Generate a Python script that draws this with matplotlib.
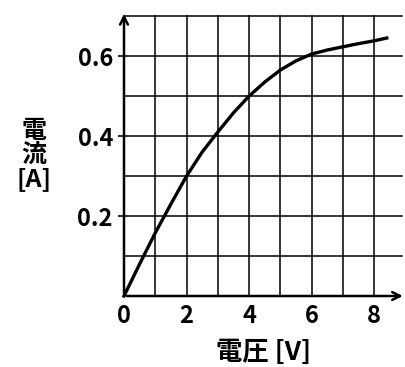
import matplotlib.pyplot as plt

plt.rcParams['font.family'] = ['Noto Sans CJK JP', 'DejaVu Sans']

# values
voltage = [0, 0.5, 1, 1.5, 2, 2.5, 3, 3.5, 4, 4.5, 5, 5.5, 6, 6.5, 7, 7.5, 8, 8.4]
current = [0, 0.08, 0.158, 0.23, 0.30, 0.36, 0.41, 0.458, 0.50, 0.535, 0.565,
           0.588, 0.605, 0.615, 0.623, 0.631, 0.638, 0.645]
x_ticks = [0, 2, 4, 6, 8]
y_ticks = [0.2, 0.4, 0.6]
x_grid = [1, 2, 3, 4, 5, 6, 7, 8]
y_grid = [0.1, 0.2, 0.3, 0.4, 0.5, 0.6, 0.7]

fig = plt.figure(figsize=(4.06, 3.67), dpi=100)
ax = fig.add_axes([124 / 406, 71 / 367, 280 / 406, 280 / 367])
xmax, ymax = 8.95, 0.7
ax.set_xlim(0, xmax)
ax.set_ylim(0, ymax)
for s in ax.spines.values():
    s.set_visible(False)

# grid
for gx in x_grid:
    ax.plot([gx, gx], [0, ymax], color='black', lw=1.1, clip_on=False)
for gy in y_grid:
    ax.plot([0, xmax - 0.05], [gy, gy], color='black', lw=1.1, clip_on=False)

# axes with arrows
ax.annotate('', xy=(xmax + 0.05, 0), xytext=(0, 0),
            arrowprops=dict(arrowstyle='->', lw=1.8, color='black', mutation_scale=14),
            annotation_clip=False)
ax.annotate('', xy=(0, ymax + 0.012), xytext=(0, 0),
            arrowprops=dict(arrowstyle='->', lw=1.8, color='black', mutation_scale=14),
            annotation_clip=False)

ax.plot(voltage, current, color='black', lw=2.4, clip_on=False)

ax.set_xticks(x_ticks)
ax.set_xticklabels([str(v) for v in x_ticks], fontweight='bold')
ax.set_yticks(y_ticks)
ax.set_yticklabels([f'{v:.1f}' for v in y_ticks], fontweight='bold')
ax.tick_params(axis='x', length=0, labelsize=17, pad=6)
ax.tick_params(axis='y', length=4, width=1.2, labelsize=17, pad=4)

fig.text(34 / 406, 1 - 155 / 367, '電\n流\n[A]', ha='center', va='center',
         fontsize=18, linespacing=1.0, fontweight='bold')
fig.text(264 / 406, 1 - 352 / 367, '電圧 [V]', ha='center', va='center',
         fontsize=19, fontweight='bold')

fig.savefig('out.png', dpi=100)
